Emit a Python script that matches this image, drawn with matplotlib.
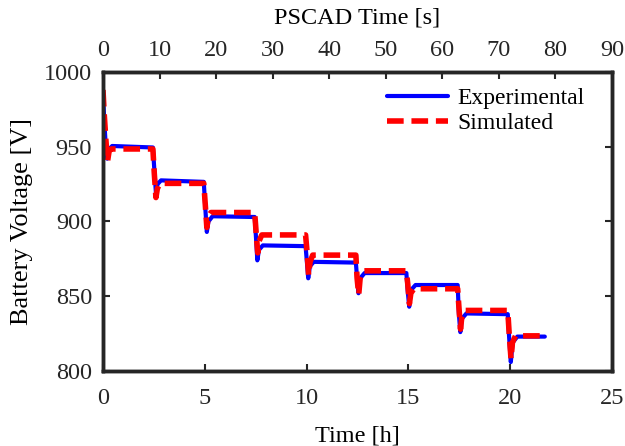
import numpy as np
import matplotlib
matplotlib.use('Agg')
import matplotlib.pyplot as plt

# Battery discharge test, hours on bottom axis, PSCAD seconds on top axis
exp_t = [0.0, 0.06, 0.13, 0.21, 0.29, 0.45, 2.45,
         2.52, 2.6, 2.68, 2.85, 4.95,
         5.02, 5.1, 5.18, 5.38, 7.45,
         7.52, 7.58, 7.66, 7.85, 9.95,
         10.02, 10.08, 10.16, 10.35, 12.42,
         12.48, 12.55, 12.63, 12.85, 14.9,
         14.97, 15.04, 15.12, 15.35, 17.42,
         17.48, 17.55, 17.63, 17.85, 19.88,
         19.95, 20.03, 20.12, 20.35, 21.7]
exp_v = [985, 968, 952, 942, 948, 950.5, 949.5,
         935, 919, 925, 927.5, 926.5,
         910, 893, 900, 903.5, 903,
         888, 874, 881, 884, 883.5,
         872, 862, 870, 873, 872.5,
         862, 852, 862, 865.5, 865.5,
         853, 843, 854, 857.5, 857.5,
         838, 826, 835, 838.5, 838,
         822, 806, 819, 823, 823]

sim_t = [0.0, 0.06, 0.14, 0.22, 0.3, 0.4, 2.45,
         2.52, 2.6, 2.67, 2.8, 4.95,
         5.02, 5.1, 5.17, 5.3, 7.45,
         7.52, 7.6, 7.67, 7.8, 9.95,
         10.02, 10.1, 10.17, 10.3, 12.42,
         12.48, 12.56, 12.63, 12.78, 14.9,
         14.97, 15.05, 15.12, 15.27, 17.42,
         17.48, 17.56, 17.63, 17.78, 19.88,
         19.95, 20.04, 20.11, 20.26, 21.7]
sim_v = [988, 972, 955, 940, 947, 948.5, 948.5,
         932, 916, 922, 925.5, 925.5,
         912, 896, 903, 906, 906,
         893, 879, 887, 891, 891,
         880, 864, 873, 877.5, 877.5,
         862, 851, 862, 867, 867,
         858, 845, 852, 855, 855,
         843, 828, 837, 840.5, 840.5,
         825, 808, 819, 823.5, 823.5]

x_ticks = [0, 5, 10, 15, 20, 25]
top_ticks = [0, 10, 20, 30, 40, 50, 60, 70, 80, 90]
y_ticks = [800, 850, 900, 950, 1000]

plt.rcParams['font.family'] = ['Liberation Serif', 'DejaVu Serif']
plt.rcParams['font.size'] = 17.5

axis_col = '#262626'

fig = plt.figure(figsize=(6.25, 4.46), dpi=100)
ax = fig.add_axes([0.1648, 0.1682, 0.8144, 0.6704])

ax.plot(exp_t, exp_v, color='#0000FF', linewidth=3.0, label='Experimental',
        solid_joinstyle='round', solid_capstyle='round')
ax.plot(sim_t, sim_v, color='#FF0000', linewidth=4.0, linestyle=(0, (3, 1.4)),
        label='Simulated', dash_joinstyle='round')

ax.set_xlim(0, 25)
ax.set_ylim(800, 1000)
ax.set_xticks(x_ticks)
ax.set_yticks(y_ticks)
ax.set_xlabel('Time [h]', labelpad=12)
ax.set_ylabel('Battery Voltage [V]', labelpad=8, fontsize=19)
ax.tick_params(direction='in', length=5, width=1.5, colors=axis_col,
               labelcolor='#262626', right=True, top=False)
ax.tick_params(axis='x', pad=12)
ax.tick_params(axis='y', pad=8)
for sp in ax.spines.values():
    sp.set_linewidth(2.5)
    sp.set_color(axis_col)

ax2 = ax.twiny()
ax2.set_xlim(0, 90)
ax2.set_xticks(top_ticks)
ax2.set_xlabel('PSCAD Time [s]', labelpad=12)
ax2.tick_params(direction='in', length=5, width=1.5, colors=axis_col,
                labelcolor='#262626', pad=8)
for sp in ax2.spines.values():
    sp.set_linewidth(2.5)
    sp.set_color(axis_col)

ax.legend(loc='upper right', bbox_to_anchor=(0.975, 0.995), frameon=False,
          handlelength=2.6, handletextpad=0.4, labelspacing=0.15, fontsize=17,
          borderaxespad=0.2)

fig.savefig('out.png', dpi=100)
